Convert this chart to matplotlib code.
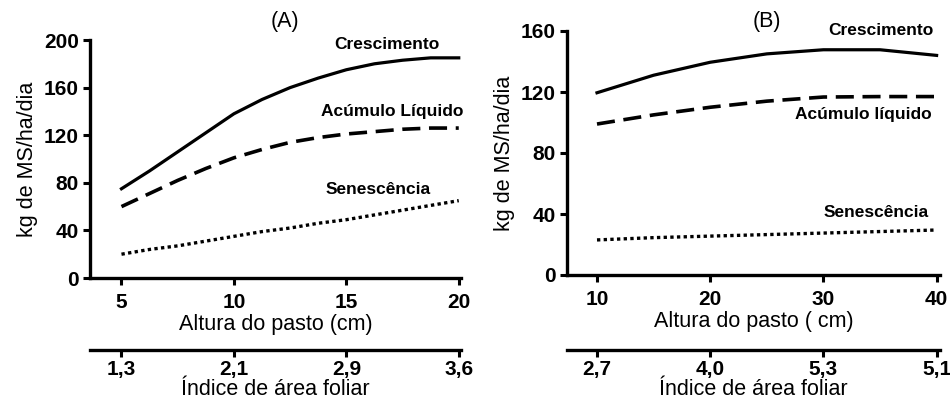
import matplotlib
matplotlib.use('Agg')
import matplotlib.pyplot as plt

plt.rcParams['font.family'] = ['Liberation Sans', 'DejaVu Sans']

# Painel A - altura do pasto (cm)
x_a = [5, 6.25, 7.5, 8.75, 10, 11.25, 12.5, 13.75, 15, 16.25, 17.5, 18.75, 20]
cresc_a = [75, 90, 106, 122, 138, 150, 160, 168, 175, 180, 183, 185, 185]
acum_a = [60, 71, 82, 92, 101, 108, 114, 118, 121, 123, 125, 126, 126]
senes_a = [20, 24, 27, 31, 35, 39, 42, 46, 49, 53, 57, 61, 65]
ticks_a = [5, 10, 15, 20]
iaf_a = ['1,3', '2,1', '2,9', '3,6']

# Painel B
x_b = [10, 15, 20, 25, 30, 35, 40]
cresc_b = [119.5, 131, 139.5, 145, 147.7, 147.7, 144]
acum_b = [99, 105, 110, 114, 116.7, 117, 117]
senes_b = [23, 24.5, 25.5, 26.5, 27.5, 28.5, 29.5]
ticks_b = [10, 20, 30, 40]
iaf_b = ['2,7', '4,0', '5,3', '5,1']

TICK_FS = 15
LABEL_FS = 15.5
NOTE_FS = 12.5

fig = plt.figure(figsize=(9.5, 4.12), dpi=100)
ax_a = fig.add_axes([90/950, 1-278/412, 371/950, 238/412])
ax_b = fig.add_axes([567/950, 1-275/412, 373/950, 244/412])


def style(ax, xticks, iaf, loc, xlabel):
    for s in ['top', 'right']:
        ax.spines[s].set_visible(False)
    for s in ['left', 'bottom']:
        ax.spines[s].set_linewidth(2.4)
    ax.tick_params(width=2.2, length=5, labelsize=TICK_FS, pad=3)
    ax.tick_params(axis='x', pad=6)
    ax.set_xticks(xticks)
    for lab in ax.get_xticklabels() + ax.get_yticklabels():
        lab.set_fontweight('bold')
    ax.set_xlabel(xlabel, fontsize=LABEL_FS, labelpad=1)
    ax.set_ylabel('kg de MS/ha/dia', fontsize=LABEL_FS, labelpad=4)
    sec = ax.secondary_xaxis(loc)
    sec.spines['bottom'].set_linewidth(2.4)
    sec.tick_params(width=2.2, length=5, labelsize=TICK_FS, pad=2)
    sec.set_xticks(xticks)
    sec.set_xticklabels(iaf, fontweight='bold')
    sec.set_xlabel('Índice de área foliar', fontsize=LABEL_FS, labelpad=0)
    return sec


# Painel A
ax_a.plot(x_a, cresc_a, color='black', lw=2.3)
ax_a.plot(x_a, acum_a, color='black', lw=2.6, linestyle=(0, (5, 2.4)))
ax_a.plot(x_a, senes_a, color='black', lw=2.4, linestyle=(0, (1, 1)))
ax_a.set_xlim(3.6, 20.1)
ax_a.set_ylim(0, 200)
ax_a.set_yticks([0, 40, 80, 120, 160, 200])
style(ax_a, ticks_a, iaf_a, -0.3025, 'Altura do pasto (cm)')
ax_a.text(16.8, 196, 'Crescimento', fontsize=NOTE_FS, fontweight='bold', ha='center', va='center')
ax_a.text(17.06, 139.5, 'Acúmulo Líquido', fontsize=NOTE_FS, fontweight='bold', ha='center', va='center')
ax_a.text(16.4, 74, 'Senescência', fontsize=NOTE_FS, fontweight='bold', ha='center', va='center')

# Painel B
ax_b.plot(x_b, cresc_b, color='black', lw=2.3)
ax_b.plot(x_b, acum_b, color='black', lw=2.6, linestyle=(0, (5, 2.4)))
ax_b.plot(x_b, senes_b, color='black', lw=2.4, linestyle=(0, (1, 1)))
ax_b.set_xlim(7.35, 40.3)
ax_b.set_ylim(0, 160)
ax_b.set_yticks([0, 40, 80, 120, 160])
style(ax_b, ticks_b, iaf_b, -0.307, 'Altura do pasto ( cm)')
ax_b.text(39.7, 160.3, 'Crescimento', fontsize=NOTE_FS, fontweight='bold', ha='right', va='center')
ax_b.text(39.6, 105.4, 'Acúmulo líquido', fontsize=NOTE_FS, fontweight='bold', ha='right', va='center')
ax_b.text(39.3, 40.8, 'Senescência', fontsize=NOTE_FS, fontweight='bold', ha='right', va='center')

fig.text(285/950, 1-22/412, '(A)', fontsize=LABEL_FS, ha='center', va='center')
fig.text(767/950, 1-22/412, '(B)', fontsize=LABEL_FS, ha='center', va='center')

fig.savefig('out.png', dpi=100)
